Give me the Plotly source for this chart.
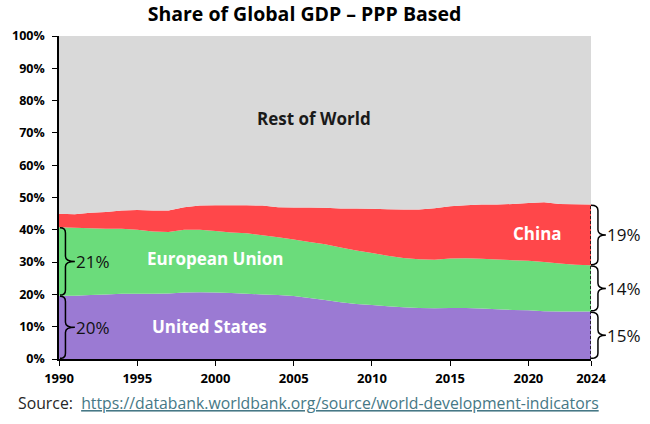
import plotly.graph_objects as go

years = list(range(1990, 2025))
us = [19.6, 19.6, 19.8, 20.0, 20.2, 20.2, 20.2, 20.3, 20.6, 20.7,
      20.6, 20.4, 20.2, 20.0, 19.8, 19.5, 18.9, 18.3, 17.6, 17.0,
      16.7, 16.3, 16.0, 15.8, 15.7, 15.8, 15.8, 15.6, 15.4, 15.2,
      15.1, 14.8, 14.7, 14.7, 14.7]
eu = [21.2, 21.0, 20.7, 20.3, 20.1, 19.8, 19.3, 19.0, 19.4, 19.3,
      19.0, 18.8, 18.7, 18.3, 17.9, 17.5, 17.3, 17.2, 16.9, 16.6,
      16.1, 15.7, 15.3, 15.1, 15.0, 15.3, 15.4, 15.4, 15.4, 15.4,
      15.3, 15.2, 14.9, 14.5, 14.3]
china = [4.2, 4.2, 4.8, 5.2, 5.7, 6.1, 6.5, 6.7, 7.0, 7.5,
         8.0, 8.4, 8.7, 9.2, 9.3, 9.9, 10.7, 11.3, 12.1, 13.0,
         13.7, 14.4, 15.0, 15.4, 16.0, 16.2, 16.4, 16.8, 17.0, 17.4,
         17.9, 18.5, 18.4, 18.7, 18.8]
row = [55.0, 55.2, 54.7, 54.5, 54.0, 53.9, 54.0, 54.0, 53.0, 52.5,
       52.4, 52.4, 52.4, 52.5, 53.0, 53.1, 53.1, 53.2, 53.4, 53.4,
       53.5, 53.6, 53.7, 53.7, 53.3, 52.7, 52.4, 52.2, 52.2, 52.0,
       51.7, 51.5, 52.0, 52.1, 52.2]

names = ["United States", "European Union", "China", "Rest of World"]
colors = ["#9B7AD3", "#6BDC7B", "#FF474A", "#D9D9D9"]
x_ticks = [1990, 1995, 2000, 2005, 2010, 2015, 2020, 2024]
y_ticks = [0, 10, 20, 30, 40, 50, 60, 70, 80, 90, 100]
y_tick_labels = ["0%", "10%", "20%", "30%", "40%", "50%", "60%", "70%", "80%", "90%", "100%"]

# labels for start / end shares
start_labels = ["20%", "21%"]
end_labels = ["15%", "14%", "19%"]

W, H = 650, 424
ML, MR, MT, MB = 55, 59, 36, 65
PW = W - ML - MR
PH = H - MT - MB
FONT = "Open Sans"

fig = go.Figure()
for vals, name, col in zip([us, eu, china, row], names, colors):
    fig.add_trace(go.Scatter(x=years, y=vals, name=name, stackgroup="one",
                             mode="none", fillcolor=col, hoverinfo="skip"))

def pxx(px):
    return (px - ML) / PW

def pxy(py):
    return (H - MB - py) / PH

def brace(x_start_px, stem_px, tip_px, bot, top, r=1.6):
    x0, xs, xt = pxx(x_start_px), pxx(stem_px), pxx(tip_px)
    mid = (bot + top) / 2
    return (f"M {x0},{top} Q {xs},{top} {xs},{top - r} "
            f"L {xs},{mid + r} Q {xs},{mid} {xt},{mid} "
            f"Q {xs},{mid} {xs},{mid - r} "
            f"L {xs},{bot + r} Q {xs},{bot} {x0},{bot}")

shapes = []
annotations = []

# left braces at 1990
cum_start = [0, us[0], us[0] + eu[0]]
for i, lab in enumerate(start_labels):
    lo, hi = cum_start[i] + 0.2, cum_start[i + 1] - 0.2
    shapes.append(dict(type="path", xref="paper", yref="y",
                       path=brace(ML + 1, ML + 6.5, ML + 16, lo, hi),
                       line=dict(color="black", width=1.5)))
    annotations.append(dict(x=pxx(ML + 15), y=(lo + hi) / 2, xref="paper", yref="y",
                            text=lab, showarrow=False, xanchor="left",
                            font=dict(family=FONT, size=17, color="#111111")))

# right braces at 2024
cum_end = [0, us[-1], us[-1] + eu[-1], us[-1] + eu[-1] + china[-1]]
for i, lab in enumerate(end_labels):
    lo, hi = cum_end[i] + 0.2, cum_end[i + 1] - 0.2
    shapes.append(dict(type="path", xref="paper", yref="y",
                       path=brace(ML + PW, ML + PW + 7, ML + PW + 15, lo, hi),
                       line=dict(color="black", width=1.5)))
    annotations.append(dict(x=pxx(ML + PW + 14), y=(lo + hi) / 2, xref="paper", yref="y",
                            text=lab, showarrow=False, xanchor="left",
                            font=dict(family=FONT, size=17, color="#111111")))

# dashed line at last year
shapes.append(dict(type="line", xref="x", yref="y", x0=years[-1], x1=years[-1],
                   y0=0, y1=cum_end[-1], line=dict(color="black", width=1.5, dash="3px,2px")))

# region labels
region_labels = [
    dict(x=2006.3, y=74.6, text="<b>Rest of World</b>", font=dict(family=FONT, size=17, color="#1a1a1a")),
    dict(x=2000.0, y=31.2, text="<b>European Union</b>", font=dict(family=FONT, size=17, color="white")),
    dict(x=1999.6, y=10.1, text="<b>United States</b>", font=dict(family=FONT, size=17, color="white")),
    dict(x=2020.6, y=39.0, text="<b>China</b>", font=dict(family=FONT, size=17, color="white")),
]
for a in region_labels:
    a.update(xref="x", yref="y", showarrow=False)
annotations += region_labels

annotations.append(dict(
    x=pxx(12), y=pxy(403), xref="paper", yref="paper", xanchor="left", yanchor="middle",
    text="<span style='color:#262626'>Source:</span>  "
         "<span style='color:#467886'><u>https://databank.worldbank.org/source/world-development-indicators</u></span>",
    showarrow=False, font=dict(family=FONT, size=15.8)))

fig.update_layout(
    width=W, height=H,
    margin=dict(l=ML, r=MR, t=MT, b=MB),
    paper_bgcolor="white", plot_bgcolor="white",
    showlegend=False,
    title=dict(text="<b>Share of Global GDP – PPP Based</b>", x=304.5 / W, xanchor="center",
               y=1 - 14.5 / H, yanchor="middle", font=dict(family=FONT, size=19.5, color="black")),
    shapes=shapes, annotations=annotations,
    xaxis=dict(range=[years[0], years[-1]], tickvals=x_ticks, showgrid=False, zeroline=False,
               showline=True, linecolor="black", linewidth=1.5, ticks="outside", ticklen=5,
               tickcolor="black", ticklabelstandoff=2,
               tickfont=dict(family=FONT, size=13, color="black", weight="bold")),
    yaxis=dict(range=[0, 100], tickvals=y_ticks, ticktext=y_tick_labels, showgrid=False, zeroline=False,
               showline=True, linecolor="black", linewidth=1.5, ticks="outside", ticklen=5,
               tickcolor="black", ticklabelstandoff=5,
               tickfont=dict(family=FONT, size=12.5, color="black", weight="bold")),
)

fig.write_html("out.html", config={"displayModeBar": False},
               post_script="document.body.style.margin='0px';")
